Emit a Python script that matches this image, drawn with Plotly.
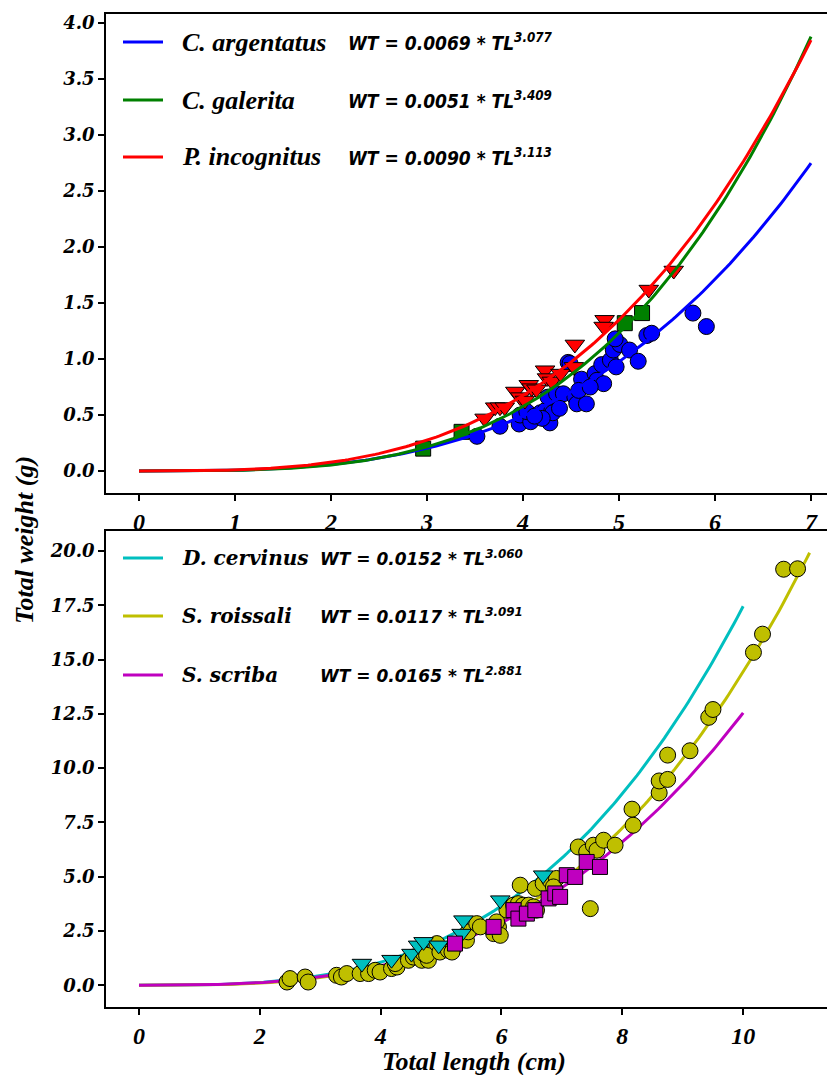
import numpy as np
import plotly.graph_objects as go

# ---------------- data ----------------
# Top panel fits: WT = a * TL^b
top_species = ["C. argentatus", "C. galerita", "P. incognitus"]
top_a = [0.0069, 0.0051, 0.0090]
top_b = [3.077, 3.409, 3.113]
top_colors = ["#0000ff", "#008000", "#ff0000"]
top_xmax = [7.0, 7.0, 7.0]

arg_tl = [3.52, 3.76, 3.96, 3.97, 4.08, 4.04, 4.18, 4.28, 4.23, 4.30, 4.31, 4.26, 4.35, 4.42,
          4.54, 4.56, 4.66, 4.61, 4.47, 4.75, 4.77, 4.84, 4.82, 4.91, 4.97, 4.94, 5.01, 4.96,
          5.11, 5.20, 5.29, 5.34, 5.77, 5.91, 4.20, 4.38, 4.49, 4.58, 4.12, 4.70]
arg_wt = [0.31, 0.40, 0.42, 0.50, 0.44, 0.53, 0.52, 0.43, 0.54, 0.54, 0.52, 0.66, 0.69, 0.69,
          0.66, 0.60, 0.60, 0.82, 0.97, 0.87, 0.81, 0.78, 0.95, 0.99, 0.93, 1.08, 1.13, 1.18,
          1.08, 0.98, 1.21, 1.23, 1.41, 1.29, 0.47, 0.56, 0.96, 0.72, 0.49, 0.75]

gal_tl = [2.96, 3.36, 5.06, 5.24]
gal_wt = [0.20, 0.35, 1.32, 1.41]

inc_tl = [3.60, 3.71, 3.76, 3.81, 3.92, 3.97, 4.06, 4.09, 4.14, 4.23, 4.25, 4.30, 4.39,
          4.53, 4.54, 4.85, 4.84, 5.31, 5.57, 4.02]
inc_wt = [0.47, 0.57, 0.57, 0.57, 0.71, 0.66, 0.77, 0.74, 0.73, 0.90, 0.83, 0.80, 0.87,
          0.93, 1.13, 1.35, 1.29, 1.62, 1.79, 0.63]

# Bottom panel fits
bot_species = ["D. cervinus", "S. roissali", "S. scriba"]
bot_a = [0.0152, 0.0117, 0.0165]
bot_b = [3.060, 3.091, 2.881]
bot_colors = ["#00bfbf", "#bfbf00", "#bf00bf"]
bot_xmax = [10.0, 11.1, 10.0]

roi_tl = [2.45, 2.50, 2.75, 2.80, 3.27, 3.35, 3.44, 3.66, 3.80, 3.91, 3.99, 4.18, 4.27, 4.24,
          4.46, 4.54, 4.68, 4.71, 4.79, 4.76, 4.93, 4.98, 5.12, 5.20, 5.18, 5.42, 5.45, 5.59,
          5.65, 5.87, 5.95, 5.92, 5.98, 6.09, 6.20, 6.28, 6.36, 6.45, 6.53, 6.58, 6.31, 6.56,
          6.69, 6.80, 6.91, 6.86, 7.27, 7.41, 7.52, 7.58, 7.69, 7.88, 7.47, 8.18, 8.16, 8.61,
          8.61, 8.75, 8.75, 9.12, 9.43, 9.50, 10.17, 10.32, 10.67, 10.90]
roi_wt = [0.15, 0.31, 0.38, 0.15, 0.46, 0.38, 0.54, 0.54, 0.54, 0.69, 0.61, 0.77, 0.84, 1.00,
          1.15, 1.30, 1.15, 1.46, 1.15, 1.38, 1.92, 1.53, 1.61, 1.69, 1.53, 2.07, 2.46, 2.84,
          2.69, 2.38, 2.69, 2.92, 2.30, 3.46, 3.69, 3.76, 3.69, 3.69, 3.61, 3.46, 4.61, 4.46,
          4.69, 4.84, 4.92, 4.53, 6.37, 6.14, 6.45, 6.22, 6.68, 6.45, 3.53, 7.37, 8.11, 8.86,
          9.41, 9.48, 10.60, 10.80, 12.34, 12.70, 15.33, 16.17, 19.16, 19.18]

cer_tl = [3.69, 4.18, 4.51, 4.62, 4.71, 4.96, 5.37, 5.34, 5.98, 6.69]
cer_wt = [1.00, 1.18, 1.46, 1.84, 2.00, 1.84, 3.00, 2.38, 3.92, 5.07]

scr_tl = [5.23, 5.87, 6.20, 6.28, 6.42, 6.56, 6.78, 6.89, 6.97, 7.08, 7.22, 7.41, 7.63]
scr_wt = [1.92, 2.69, 3.46, 3.07, 3.30, 3.46, 4.00, 4.23, 4.07, 5.07, 4.99, 5.68, 5.45]

# ---------------- figure ----------------
OFF = 8  # page body margin offset
W, H = 835 - OFF, 1075 - OFF
ML, MR, MT, MB = 106 - OFF, 0, 14 - OFF, 68
PW = W - ML - MR
PH = H - MT - MB


def px(xp, yp):
    """screen pixel -> paper coordinates"""
    return ((xp - OFF) - ML) / PW, (H - MB - (yp - OFF)) / PH


top_dom = [px(0, 493)[1], 1.0]
bot_dom = [0.0, px(0, 531)[1]]

fig = go.Figure()


def curve(a, b, xmax):
    x = np.linspace(0, xmax, 200)
    return x, a * x ** b


edge = dict(color="black", width=1)

# top panel: scatter then lines
fig.add_trace(go.Scatter(x=arg_tl, y=arg_wt, mode="markers", xaxis="x", yaxis="y",
                         marker=dict(symbol="circle", size=16, color=top_colors[0], line=edge)))
fig.add_trace(go.Scatter(x=inc_tl, y=inc_wt, mode="markers", xaxis="x", yaxis="y",
                         marker=dict(symbol="triangle-down", size=17, color=top_colors[2], line=edge)))
fig.add_trace(go.Scatter(x=gal_tl, y=gal_wt, mode="markers", xaxis="x", yaxis="y",
                         marker=dict(symbol="square", size=15, color=top_colors[1], line=edge)))
for a, b, c, xm in zip(top_a, top_b, top_colors, top_xmax):
    xx, yy = curve(a, b, xm)
    fig.add_trace(go.Scatter(x=xx, y=yy, mode="lines", xaxis="x", yaxis="y",
                             line=dict(color=c, width=3)))

# bottom panel: lines then scatter
for a, b, c, xm in zip(bot_a, bot_b, bot_colors, bot_xmax):
    xx, yy = curve(a, b, xm)
    fig.add_trace(go.Scatter(x=xx, y=yy, mode="lines", xaxis="x2", yaxis="y2",
                             line=dict(color=c, width=3)))
fig.add_trace(go.Scatter(x=roi_tl, y=roi_wt, mode="markers", xaxis="x2", yaxis="y2",
                         marker=dict(symbol="circle", size=16, color=bot_colors[1], line=edge)))
fig.add_trace(go.Scatter(x=cer_tl, y=cer_wt, mode="markers", xaxis="x2", yaxis="y2",
                         marker=dict(symbol="triangle-down", size=17, color=bot_colors[0], line=edge)))
fig.add_trace(go.Scatter(x=scr_tl, y=scr_wt, mode="markers", xaxis="x2", yaxis="y2",
                         marker=dict(symbol="square", size=15, color=bot_colors[2], line=edge)))

xtick_font = dict(family="Liberation Serif", size=24, color="black", weight="bold", style="italic")
ytick_font = dict(family="DejaVu Serif", size=18, color="black", weight="bold", style="italic")

common_x = dict(showgrid=False, zeroline=False, showline=True, linecolor="black", linewidth=1.5,
                mirror=True, ticks="outside", ticklen=6, tickwidth=1.5, tickcolor="black",
                tickfont=xtick_font, automargin=False)
common_y = dict(showgrid=False, zeroline=False, showline=True, linecolor="black", linewidth=1.5,
                mirror=False, ticks="outside", ticklen=6, tickwidth=1.5, tickcolor="black",
                tickfont=ytick_font, automargin=False)

fig.update_layout(
    width=W, height=H,
    margin=dict(l=ML, r=MR, t=MT, b=MB),
    paper_bgcolor="white", plot_bgcolor="white",
    showlegend=False,
    xaxis=dict(domain=[0, 1], anchor="y", range=[-0.344, 7.25],
               tickvals=[0, 1, 2, 3, 4, 5, 6, 7], **common_x),
    yaxis=dict(domain=top_dom, anchor="x", range=[-0.196, 4.08],
               tickvals=[0, 0.5, 1, 1.5, 2, 2.5, 3, 3.5, 4],
               ticktext=["0.0", "0.5", "1.0", "1.5", "2.0", "2.5", "3.0", "3.5", "4.0"], **common_y),
    xaxis2=dict(domain=[0, 1], anchor="y2", range=[-0.546, 11.52],
                tickvals=[0, 2, 4, 6, 8, 10], **common_x),
    yaxis2=dict(domain=bot_dom, anchor="x2", range=[-1.0, 20.92],
                tickvals=[0, 2.5, 5, 7.5, 10, 12.5, 15, 17.5, 20],
                ticktext=["0.0", "2.5", "5.0", "7.5", "10.0", "12.5", "15.0", "17.5", "20.0"],
                **common_y),
)

shapes = []
annotations = []

title_font = dict(family="Liberation Serif", size=26, color="black", weight="bold", style="italic")
x0, y0 = px(474, 1061)
annotations.append(dict(text="Total length (cm)", x=x0, y=y0, xref="paper", yref="paper",
                        showarrow=False, xanchor="center", yanchor="middle", font=title_font))
x0, y0 = px(24, 540)
annotations.append(dict(text="Total weight (g)", x=x0, y=y0, xref="paper", yref="paper",
                        showarrow=False, xanchor="center", yanchor="middle", textangle=-90,
                        font=title_font))

# legends
top_name_font = dict(family="Liberation Serif", size=26, color="black", weight="bold", style="italic")
top_eq_font = dict(family="DejaVu Sans Condensed, DejaVu Sans", size=19, color="black",
                   weight="bold", style="italic")
bot_name_font = dict(family="DejaVu Serif", size=20, color="black", weight="bold", style="italic")
bot_eq_font = dict(family="DejaVu Sans", size=17, color="black", weight="bold", style="italic")

top_rows = [42, 100, 157]
for name, a, b, c, yp in zip(top_species, top_a, top_b, top_colors, top_rows):
    xa, ya = px(123, yp)
    xb, _ = px(163, yp)
    shapes.append(dict(type="line", xref="paper", yref="paper", x0=xa, x1=xb, y0=ya, y1=ya,
                       line=dict(color=c, width=3)))
    xn, _ = px(180, yp)
    annotations.append(dict(text=name, x=xn, y=ya, xref="paper", yref="paper", showarrow=False,
                            xanchor="left", yanchor="middle", font=top_name_font))
    xe, _ = px(346, yp)
    annotations.append(dict(text=f"WT = {a:.4f} * TL<sup>{b:.3f}</sup>", x=xe, y=ya,
                            xref="paper", yref="paper", showarrow=False,
                            xanchor="left", yanchor="middle", font=top_eq_font))

bot_rows = [558, 616, 675]
for name, a, b, c, yp in zip(bot_species, bot_a, bot_b, bot_colors, bot_rows):
    xa, ya = px(123, yp)
    xb, _ = px(163, yp)
    shapes.append(dict(type="line", xref="paper", yref="paper", x0=xa, x1=xb, y0=ya, y1=ya,
                       line=dict(color=c, width=3)))
    xn, _ = px(180, yp)
    annotations.append(dict(text=name, x=xn, y=ya, xref="paper", yref="paper", showarrow=False,
                            xanchor="left", yanchor="middle", font=bot_name_font))
    xe, _ = px(318, yp)
    annotations.append(dict(text=f"WT = {a:.4f} * TL<sup>{b:.3f}</sup>", x=xe, y=ya,
                            xref="paper", yref="paper", showarrow=False,
                            xanchor="left", yanchor="middle", font=bot_eq_font))

fig.update_layout(shapes=shapes, annotations=annotations)

fig.write_html("out.html")
